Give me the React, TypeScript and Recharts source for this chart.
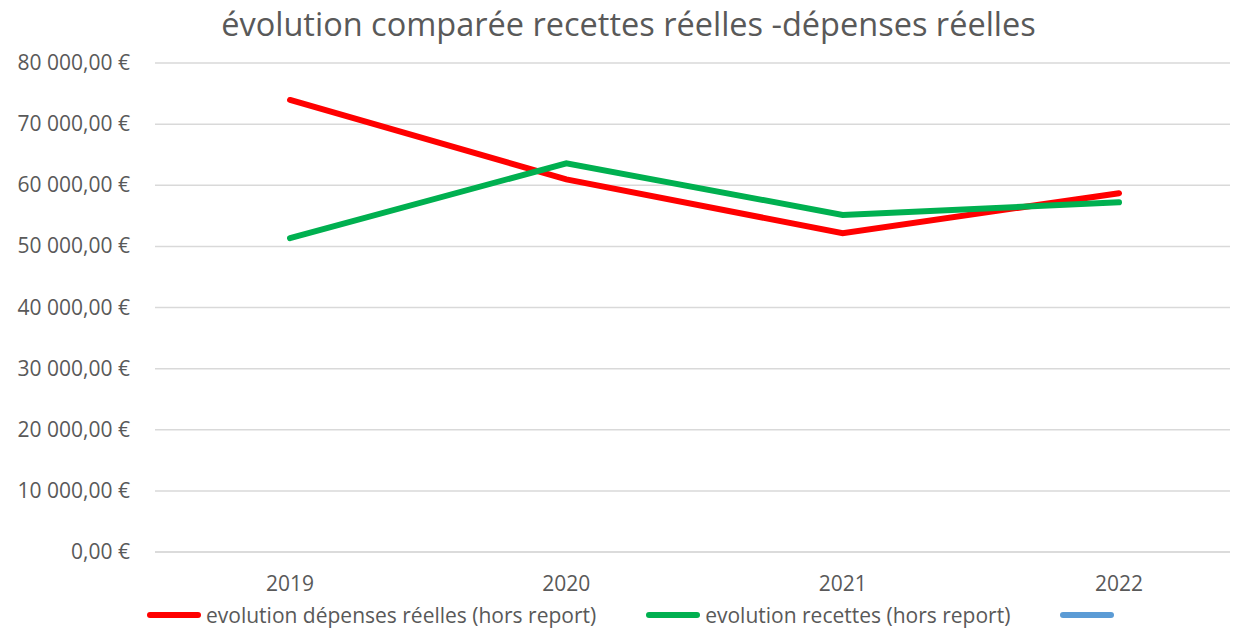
import { LineChart, Line, XAxis, YAxis, CartesianGrid } from 'recharts';

const years = ['2019', '2020', '2021', '2022'];
const depenses = [73950, 60950, 52150, 58700];
const recettes = [51350, 63600, 55150, 57200];
const yTicks = [0, 10000, 20000, 30000, 40000, 50000, 60000, 70000, 80000];

const SERIES = [
  { key: 'depenses', name: 'evolution dépenses réelles (hors report)', color: '#ff0000' },
  { key: 'recettes', name: 'evolution recettes (hors report)', color: '#00b050' },
  { key: 'vide', name: '', color: '#5b9bd5' },
];

const data = years.map((year, i) => ({
  year,
  depenses: depenses[i],
  recettes: recettes[i],
  vide: null,
}));

const FONT = '"Open Sans", sans-serif';
const GREY = '#595959';

const euro = (v: number) => {
  const int = Math.floor(v).toString().replace(/\B(?=(\d{3})+(?!\d))/g, '\u00a0');
  return `${int},00\u00a0€`;
};

const YTick = ({ x, y, payload }: any) => (
  <text x={x - 23} y={y} dy={7} textAnchor="end" fill={GREY} fontSize={21} fontFamily={FONT}>
    {euro(payload.value)}
  </text>
);

export default function App() {
  return (
    <div style={{ position: 'relative', width: 1230, height: 622, fontFamily: FONT }}>
      <div
        style={{
          position: 'absolute',
          top: -7,
          left: 0,
          width: 1241,
          textAlign: 'center',
          fontSize: 32.5,
          color: GREY,
          zIndex: 1,
        }}
      >
        évolution comparée recettes réelles -dépenses réelles
      </div>
      <LineChart width={1230} height={622} data={data} margin={{ top: 55, right: 0, bottom: 48, left: 0 }}>
        <CartesianGrid vertical={false} stroke="#d9d9d9" strokeWidth={1.5} />
        <XAxis
          dataKey="year"
          height={30}
          padding={{ left: 135, right: 119 }}
          axisLine={{ stroke: '#d9d9d9', strokeWidth: 1.5 }}
          tickLine={false}
          tickSize={0}
          tickMargin={24}
          tick={{ fill: GREY, fontSize: 21, fontFamily: FONT }}
        />
        <YAxis
          width={147}
          domain={[0, 80000]}
          ticks={yTicks}
          interval={0}
          axisLine={false}
          tickLine={false}
          tickSize={0}
          tick={<YTick />}
        />
        {SERIES.map((s) => (
          <Line
            key={s.key}
            dataKey={s.key}
            name={s.name}
            stroke={s.color}
            strokeWidth={6}
            dot={false}
            strokeLinecap="round"
            isAnimationActive={false}
          />
        ))}
      </LineChart>
      <div
        style={{
          position: 'absolute',
          left: 139,
          top: 593,
          display: 'flex',
          alignItems: 'center',
          fontSize: 21,
          color: GREY,
        }}
      >
        {SERIES.map((s, i) => (
          <div key={s.key} style={{ display: 'flex', alignItems: 'center', marginLeft: i === 0 ? 0 : 50 }}>
            <div style={{ width: 54, height: 6, borderRadius: 3, background: s.color, marginRight: 5 }} />
            <span>{s.name}</span>
          </div>
        ))}
      </div>
    </div>
  );
}
